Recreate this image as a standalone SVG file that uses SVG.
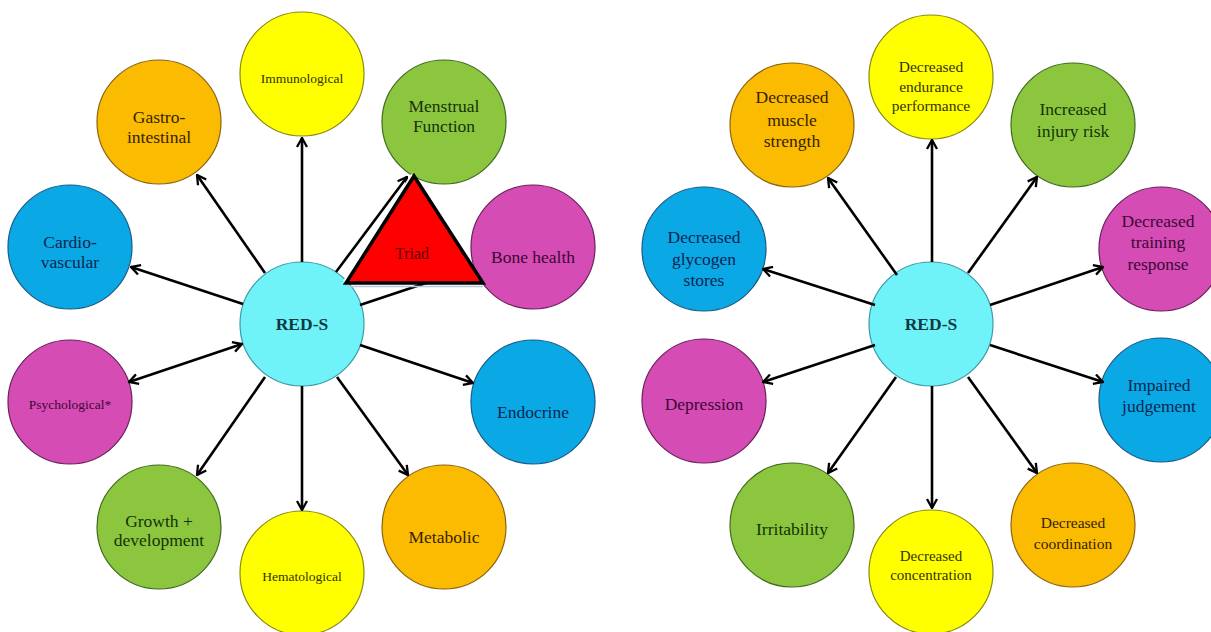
<svg xmlns="http://www.w3.org/2000/svg" width="1211" height="632" viewBox="0 0 1211 632">
<defs>
<style>
text{font-family:"Liberation Serif","Times New Roman",serif;text-anchor:middle}
.t17{font-size:17.5px}
.t15{font-size:15.5px}
.t13{font-size:13.5px}
.c{stroke-width:1.2}
.cyan{fill:#6ff2f8;stroke:#3a9aa8}
.yel{fill:#ffff00;stroke:#8a8a10}
.ora{fill:#fbbb00;stroke:#8a6410}
.gre{fill:#8cc63f;stroke:#3f6a1c}
.blu{fill:#0aa8e5;stroke:#175a8a}
.mag{fill:#d44cb4;stroke:#6a1f5a}
.tcy{fill:#0e3a44}
.tye{fill:#333305}
.tor{fill:#352300}
.tgr{fill:#133306}
.tbl{fill:#0a2650}
.tma{fill:#3e0636}
.ln{stroke:#000;stroke-width:2.6;fill:none}
</style>
<marker id="ah" viewBox="0 0 12 12" refX="11" refY="6" markerWidth="12" markerHeight="12" markerUnits="userSpaceOnUse" orient="auto-start-reverse">
<path d="M2,1 L11,6 L2,11" fill="none" stroke="#000" stroke-width="2.3"/>
</marker>
</defs>
<rect width="1211" height="632" fill="#fff"/>

<!-- Left diagram nodes -->
<g id="L-reds"><circle class="c cyan" cx="302" cy="324" r="62"/><text class="tcy" x="302" y="330" font-size="17.5" font-weight="bold">RED-S</text></g>
<g id="L-immuno"><circle class="c yel" cx="302" cy="74" r="62"/><text class="t13 tye" x="302" y="83">Immunological</text></g>
<g id="L-gastro"><circle class="c ora" cx="159" cy="122" r="62"/><text class="t17 tor" x="159" y="123">Gastro-</text><text class="t17 tor" x="159" y="143">intestinal</text></g>
<g id="L-cardio"><circle class="c blu" cx="70" cy="247" r="62"/><text class="t17 tbl" x="70" y="248">Cardio-</text><text class="t17 tbl" x="70" y="268">vascular</text></g>
<g id="L-menstrual"><circle class="c gre" cx="444" cy="122" r="62"/><text class="t17 tgr" x="444" y="112">Menstrual</text><text class="t17 tgr" x="444" y="132">Function</text></g>
<g id="L-bone"><circle class="c mag" cx="533" cy="247" r="62"/><text class="t17 tma" x="533" y="263">Bone health</text></g>
<g id="L-psych"><circle class="c mag" cx="70" cy="402" r="62"/><text class="t13 tma" x="70" y="409">Psychological*</text></g>
<g id="L-growth"><circle class="c gre" cx="159" cy="527" r="62"/><text class="t17 tgr" x="159" y="527">Growth +</text><text class="t17 tgr" x="159" y="546">development</text></g>
<g id="L-hemato"><circle class="c yel" cx="302" cy="573" r="62"/><text class="t13 tye" x="302" y="581">Hematological</text></g>
<g id="L-metabolic"><circle class="c ora" cx="444" cy="527" r="62"/><text class="t17 tor" x="444" y="543">Metabolic</text></g>
<g id="L-endocrine"><circle class="c blu" cx="533" cy="402" r="62"/><text class="t17 tbl" x="533" y="418">Endocrine</text></g>

<!-- Right diagram nodes -->
<g id="R-reds"><circle class="c cyan" cx="931" cy="324" r="62"/><text class="tcy" x="931" y="330" font-size="17.5" font-weight="bold">RED-S</text></g>
<g id="R-endurance"><circle class="c yel" cx="931" cy="77" r="62"/><text class="t15 tye" x="931" y="72">Decreased</text><text class="t15 tye" x="931" y="92">endurance</text><text class="t15 tye" x="931" y="111">performance</text></g>
<g id="R-muscle"><circle class="c ora" cx="792" cy="125" r="62"/><text class="t17 tor" x="792" y="103">Decreased</text><text class="t17 tor" x="792" y="126">muscle</text><text class="t17 tor" x="792" y="147">strength</text></g>
<g id="R-glycogen"><circle class="c blu" cx="704" cy="249" r="62"/><text class="t17 tbl" x="704" y="243">Decreased</text><text class="t17 tbl" x="704" y="265">glycogen</text><text class="t17 tbl" x="704" y="286">stores</text></g>
<g id="R-injury"><circle class="c gre" cx="1073" cy="125" r="62"/><text class="t17 tgr" x="1073" y="115">Increased</text><text class="t17 tgr" x="1073" y="137">injury risk</text></g>
<g id="R-training"><circle class="c mag" cx="1161" cy="249" r="62"/><text class="t17 tma" x="1158" y="227">Decreased</text><text class="t17 tma" x="1158" y="248">training</text><text class="t17 tma" x="1158" y="270">response</text></g>
<g id="R-depression"><circle class="c mag" cx="704" cy="401" r="62"/><text class="t17 tma" x="704" y="410">Depression</text></g>
<g id="R-irritability"><circle class="c gre" cx="792" cy="525" r="62"/><text class="t17 tgr" x="792" y="535">Irritability</text></g>
<g id="R-concentration"><circle class="c yel" cx="931" cy="572" r="62"/><text class="tye" font-size="15" x="931" y="561">Decreased</text><text class="tye" font-size="15" x="931" y="580">concentration</text></g>
<g id="R-coordination"><circle class="c ora" cx="1073" cy="525" r="62"/><text class="t15 tor" x="1073" y="528">Decreased</text><text class="t15 tor" x="1073" y="549">coordination</text></g>
<g id="R-judgement"><circle class="c blu" cx="1161" cy="400" r="62"/><text class="t17 tbl" x="1159" y="391">Impaired</text><text class="t17 tbl" x="1159" y="412">judgement</text></g>

<!-- Connectors -->
<g id="connectors" class="ln" marker-end="url(#ah)">
<line x1="302" y1="262" x2="302" y2="138"/>
<line x1="265" y1="273" x2="197" y2="175"/>
<line x1="243" y1="304" x2="131" y2="267"/>
<line x1="336" y1="272" x2="407" y2="177"/>
<line x1="360" y1="305" x2="471" y2="268"/>
<line x1="242" y1="344" x2="129" y2="382" marker-start="url(#ah)"/>
<line x1="265" y1="377" x2="197" y2="475"/>
<line x1="302" y1="386" x2="302" y2="510"/>
<line x1="337" y1="377" x2="408" y2="475"/>
<line x1="360" y1="345" x2="473" y2="383"/>
<line x1="897" y1="275" x2="828" y2="178"/>
<line x1="875" y1="305" x2="763" y2="269"/>
<line x1="932" y1="262" x2="932" y2="140"/>
<line x1="968" y1="273" x2="1037" y2="177"/>
<line x1="990" y1="305" x2="1103" y2="267"/>
<line x1="875" y1="345" x2="763" y2="382"/>
<line x1="896" y1="377" x2="828" y2="473"/>
<line x1="932" y1="386" x2="932" y2="508"/>
<line x1="968" y1="377" x2="1037" y2="473"/>
<line x1="990" y1="345" x2="1103" y2="382"/>
</g>

<!-- Triad triangle -->
<g id="L-triad">
<line x1="347" y1="286.5" x2="483" y2="286.5" stroke="#b8c8d8" stroke-width="1.5"/>
<line x1="346" y1="283" x2="414" y2="176" stroke="#fff" stroke-width="7"/>
<polygon points="414,176 346,283 483,283" fill="#ff0000" stroke="#000" stroke-width="3.5" stroke-linejoin="miter"/>
<text x="412" y="259" font-size="16" fill="#5a0000">Triad</text>
</g>
</svg>
